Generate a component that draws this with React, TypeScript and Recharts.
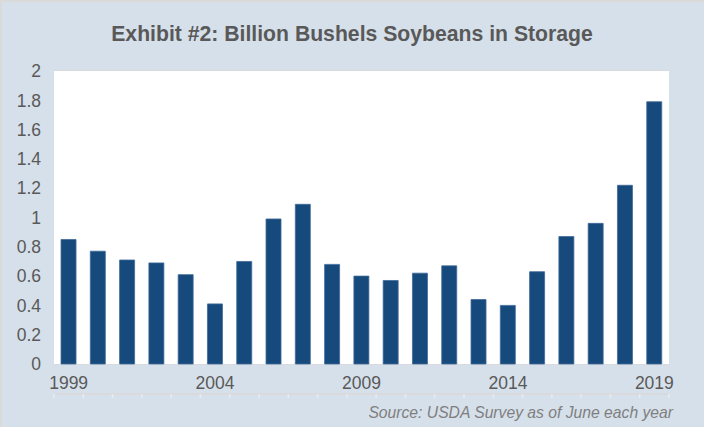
import React from "react";
import { BarChart, Bar, XAxis, YAxis, CartesianGrid } from "recharts";

const years = [1999, 2000, 2001, 2002, 2003, 2004, 2005, 2006, 2007, 2008, 2009, 2010, 2011, 2012, 2013, 2014, 2015, 2016, 2017, 2018, 2019];
const storage = [0.85, 0.77, 0.71, 0.69, 0.61, 0.41, 0.70, 0.99, 1.09, 0.68, 0.60, 0.57, 0.62, 0.67, 0.44, 0.40, 0.63, 0.87, 0.96, 1.22, 1.79];
const yTicks = [0, 0.2, 0.4, 0.6, 0.8, 1, 1.2, 1.4, 1.6, 1.8, 2];
const boundaryTicks = [1998.5, 1999.5, 2000.5, 2001.5, 2002.5, 2003.5, 2004.5, 2005.5, 2006.5, 2007.5, 2008.5, 2009.5, 2010.5, 2011.5, 2012.5, 2013.5, 2014.5, 2015.5, 2016.5, 2017.5, 2018.5, 2019.5];
const title = "Exhibit #2: Billion Bushels Soybeans in Storage";
const source = "Source: USDA Survey as of June each year";

const data = years.map((y, i) => ({ year: y, value: storage[i] }));

const FONT = "'Liberation Sans', Arial, sans-serif";

export default function App() {
  return (
    <div
      style={{
        position: "fixed",
        left: 0,
        top: 0,
        width: 704,
        height: 427,
        boxSizing: "border-box",
        background: "#d6e0ea",
        borderTop: "2px solid #dadada",
        borderLeft: "2px solid #dadada",
        fontFamily: FONT,
        overflow: "hidden",
      }}
    >
      <div
        style={{
          position: "absolute",
          left: -2,
          top: 19,
          width: 704,
          textAlign: "center",
          fontWeight: "bold",
          fontSize: 21.2,
          color: "#595959",
          lineHeight: "26px",
        }}
      >
        {title}
      </div>
      <div
        style={{
          position: "absolute",
          right: 31,
          top: 401,
          fontStyle: "italic",
          fontSize: 15.7,
          color: "#7f7f7f",
          lineHeight: "19px",
        }}
      >
        {source}
      </div>
      <div style={{ position: "absolute", left: -2, top: -2 }}>
        <BarChart
          width={704}
          height={427}
          data={data}
          margin={{ top: 71, right: 35, left: 0, bottom: 32 }}
          barCategoryGap="24%"
        >
          <rect x={54} y={71} width={615} height={293} fill="#ffffff" />
          <CartesianGrid vertical={false} stroke="#d9d9d9" strokeWidth={1.5} xAxisId="cat" />
          <XAxis
            xAxisId="grid"
            dataKey="year"
            type="number"
            domain={[1998.5, 2019.5]}
            ticks={boundaryTicks}
            interval={0}
            tickFormatter={() => ""}
            height={1}
            tickSize={4}
            tickLine={{ stroke: "#eaeaea", strokeWidth: 1.5 }}
            axisLine={{ stroke: "#d9d9d9", strokeWidth: 1.5 }}
            allowDataOverflow
          />
          <XAxis
            xAxisId="cat"
            dataKey="year"
            type="category"
            interval={4}
            tickLine={false}
            axisLine={false}
            tickMargin={7}
            height={30}
            tick={{ fill: "#595959", fontSize: 17.5, fontFamily: FONT }}
          />
          <YAxis
            width={54}
            domain={[0, 2]}
            ticks={yTicks}
            interval={0}
            tickLine={false}
            axisLine={false}
            tickMargin={7}
            tick={{ fill: "#595959", fontSize: 17.5, fontFamily: FONT }}
          />
          <Bar
            xAxisId="cat"
            dataKey="value"
            fill="#164a7c"
            stroke="#3f6a98"
            strokeWidth={0.8}
            isAnimationActive={false}
          />
        </BarChart>
      </div>
    </div>
  );
}
